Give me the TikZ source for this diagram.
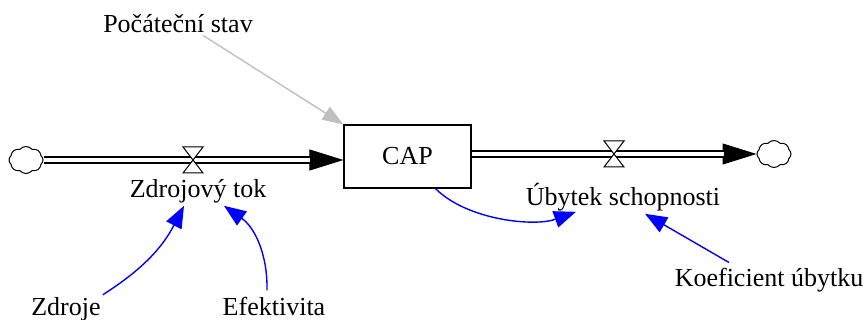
\documentclass[tikz,border=0pt]{standalone}
\usepackage{fontspec}
\setmainfont{Liberation Serif}
\usetikzlibrary{arrows.meta,shapes.symbols}

\begin{document}
\begin{tikzpicture}[x = 1pt, y = -1pt,
  lbl/.style = {inner sep = 2pt, font = \fontsize{26}{30}\selectfont},
  stockbox/.style = {draw, line width = 1.2pt, minimum width = 127pt, minimum height = 63pt, inner sep = 0pt, font = \fontsize{26}{30}\selectfont},
  cloudnode/.style = {cloud, draw, cloud puffs = 8, cloud puff arc = 100, minimum width = 34pt, minimum height = 27pt, inner sep = 0pt, line width = 1pt},
  pipe/.style = {double, double distance = 4.5pt, line width = 1.3pt},
  pipetip/.style = {line width = 1pt, -{Triangle[length = 34pt, width = 21pt]}},
  link/.style = {blue, line width = 1.4pt, -{Triangle[length = 22pt, width = 17pt]}},
  initlink/.style = {color = black!25, line width = 1.4pt, -{Triangle[length = 21pt, width = 15pt]}}
]

\useasboundingbox (0, 0) rectangle (867, 320);

\node[stockbox] (cap) at (407.5, 156.5) {CAP};
\node[cloudnode] (src) at (26, 160) {};
\node[cloudnode] (snk) at (774, 154) {};

\draw[pipetip] (src.east) -- (cap.west |- src.east);
\draw[pipe, shorten >= 33pt] (src.east) -- (cap.west |- src.east);
\draw[pipetip] (cap.east |- snk.west) -- (snk.west);
\draw[pipe, shorten >= 33pt] (cap.east |- snk.west) -- (snk.west);

\coordinate (v1) at (193, 160);
\coordinate (v2) at (614, 154);
\foreach \v in {v1, v2} {
  \filldraw[fill = white, line width = 1pt] (\v) -- ++(-10, -13) -- ++(20, 0) -- cycle;
  \filldraw[fill = white, line width = 1pt] (\v) -- ++(-10, 13) -- ++(20, 0) -- cycle;
}

\node[lbl, anchor = base] (pocatecni) at (178, 33) {Počáteční stav};
\node[lbl, anchor = base] (zdrojtok) at (198, 198) {Zdrojový tok};
\node[lbl, anchor = base] (ubytek) at (623, 206) {Úbytek schopnosti};
\node[lbl, anchor = base] (zdroje) at (66, 315) {Zdroje};
\node[lbl, anchor = base] (efekt) at (274, 315) {Efektivita};
\node[lbl, anchor = base] (koef) at (769, 287) {Koeficient úbytku};

\draw[initlink] ([xshift = 25pt]pocatecni.south) -- (cap.north west);
\draw[link] (zdroje.north east) to[bend right = 15] ([xshift = -14pt]zdrojtok.south);
\draw[link] ([xshift = -7pt, yshift = 4pt]efekt.north) to[bend right = 28] ([xshift = 26pt]zdrojtok.south);
\draw[link] ([xshift = 28pt]cap.south) to[out = -45, in = 200, looseness = 0.8] ([xshift = -47pt, yshift = 2pt]ubytek.south);
\draw[link] ([xshift = -40pt, yshift = 4pt]koef.north) -- ([xshift = 22pt]ubytek.south);

\end{tikzpicture}
\end{document}
